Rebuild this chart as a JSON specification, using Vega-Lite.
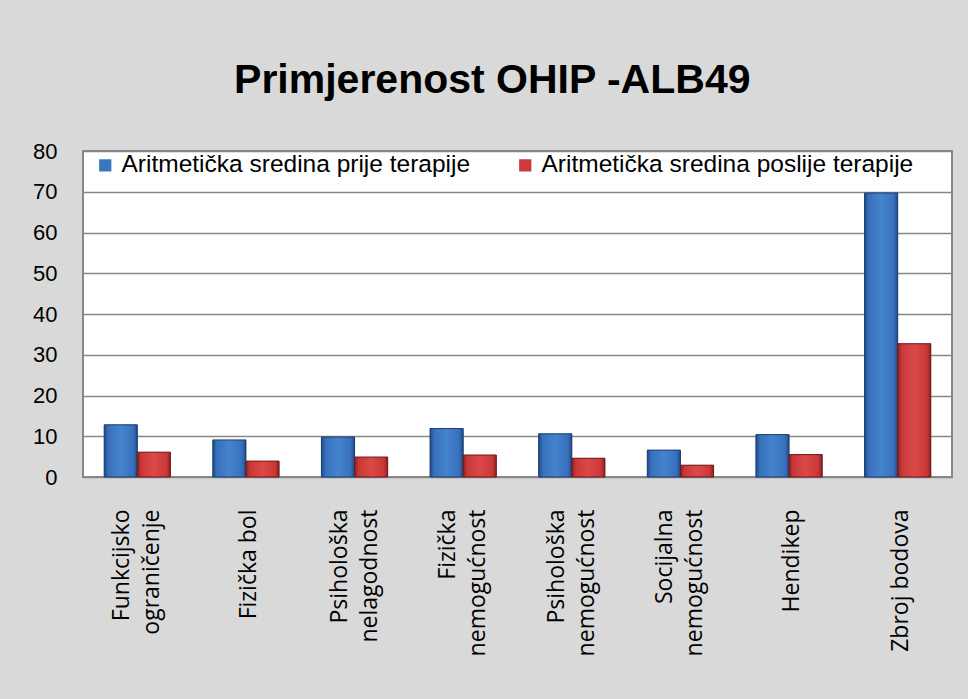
{
  "$schema": "https://vega.github.io/schema/vega-lite/v6.json",
  "autosize": {"type": "none"},
  "width": 869,
  "height": 326,
  "padding": {"left": 83, "top": 151, "right": 16, "bottom": 222},
  "background": "#d9d9d9",
  "title": {
    "text": "Primjerenost  OHIP -ALB49",
    "font": "Liberation Sans",
    "fontSize": 41,
    "fontWeight": "bold",
    "color": "#000000",
    "anchor": "middle",
    "frame": "bounds",
    "baseline": "bottom",
    "offset": -3
  },
  "config": {
    "view": {"fill": "#ffffff", "stroke": "#878787", "strokeWidth": 2},
    "axis": {"labelColor": "#000000", "ticks": false, "domain": false, "title": null}
  },
  "data": {
    "values": [
      {"kategorija": "Funkcijsko ograničenje", "serija": "Aritmetička sredina prije terapije", "vrijednost": 12.8},
      {"kategorija": "Funkcijsko ograničenje", "serija": "Aritmetička sredina poslije terapije", "vrijednost": 6.1},
      {"kategorija": "Fizička bol", "serija": "Aritmetička sredina prije terapije", "vrijednost": 9.1},
      {"kategorija": "Fizička bol", "serija": "Aritmetička sredina poslije terapije", "vrijednost": 3.9},
      {"kategorija": "Psihološka nelagodnost", "serija": "Aritmetička sredina prije terapije", "vrijednost": 9.8},
      {"kategorija": "Psihološka nelagodnost", "serija": "Aritmetička sredina poslije terapije", "vrijednost": 4.9},
      {"kategorija": "Fizička nemogućnost", "serija": "Aritmetička sredina prije terapije", "vrijednost": 11.9},
      {"kategorija": "Fizička nemogućnost", "serija": "Aritmetička sredina poslije terapije", "vrijednost": 5.4},
      {"kategorija": "Psihološka nemogućnost", "serija": "Aritmetička sredina prije terapije", "vrijednost": 10.6},
      {"kategorija": "Psihološka nemogućnost", "serija": "Aritmetička sredina poslije terapije", "vrijednost": 4.6},
      {"kategorija": "Socijalna nemogućnost", "serija": "Aritmetička sredina prije terapije", "vrijednost": 6.6},
      {"kategorija": "Socijalna nemogućnost", "serija": "Aritmetička sredina poslije terapije", "vrijednost": 2.9},
      {"kategorija": "Hendikep", "serija": "Aritmetička sredina prije terapije", "vrijednost": 10.4},
      {"kategorija": "Hendikep", "serija": "Aritmetička sredina poslije terapije", "vrijednost": 5.5},
      {"kategorija": "Zbroj bodova", "serija": "Aritmetička sredina prije terapije", "vrijednost": 69.7},
      {"kategorija": "Zbroj bodova", "serija": "Aritmetička sredina poslije terapije", "vrijednost": 32.7}
    ]
  },
  "encoding": {
    "x": {
      "field": "kategorija",
      "type": "nominal",
      "sort": null,
      "scale": {"paddingInner": 0.39, "paddingOuter": 0.195},
      "axis": {
        "labelAngle": 270,
        "labelFont": "Open Sans",
        "labelFontSize": 23,
        "labelPadding": 32,
        "labelLineHeight": 30,
        "labelLimit": 300,
        "labelOffset": {"condition": {"test": "!(datum.value == 'Fizička bol' || datum.value == 'Zbroj bodova' || datum.value == 'Hendikep')", "value": -15}, "value": 3},
        "labelExpr": "(datum.value == 'Fizička bol' || datum.value == 'Zbroj bodova' || indexof(datum.value, ' ') < 0) ? datum.value : split(datum.value, ' ')"
      }
    },
    "xOffset": {
      "field": "serija",
      "type": "nominal",
      "sort": ["Aritmetička sredina prije terapije", "Aritmetička sredina poslije terapije"],
      "scale": {"paddingInner": 0, "paddingOuter": 0}
    },
    "y": {
      "field": "vrijednost",
      "type": "quantitative",
      "scale": {"domain": [0, 80], "nice": false},
      "axis": {
        "values": [0, 10, 20, 30, 40, 50, 60, 70, 80],
        "labelFont": "Liberation Sans",
        "labelFontSize": 22,
        "labelPadding": 26,
        "gridColor": "#878787",
        "gridWidth": 1.6
      }
    }
  },
  "layer": [
    {
      "mark": {"type": "bar"},
      "encoding": {
        "color": {
          "field": "serija",
          "type": "nominal",
          "sort": ["Aritmetička sredina prije terapije", "Aritmetička sredina poslije terapije"],
          "scale": {"range": ["#3b74bf", "#cd3a3a"]},
          "legend": {
            "title": null,
            "orient": "none",
            "direction": "horizontal",
            "legendX": 10,
            "legendY": 2,
            "padding": 0,
            "symbolType": "square",
            "symbolSize": 150,
            "symbolStrokeWidth": 0,
            "labelFont": "Liberation Sans",
            "labelFontSize": 24.5,
            "labelColor": "#000000",
            "labelLimit": 500,
            "labelOffset": 4,
            "columnPadding": 42
          }
        }
      }
    },
    {
      "transform": [{"filter": "datum.serija == 'Aritmetička sredina prije terapije'"}],
      "mark": {
        "type": "bar",
        "stroke": "#1c3f70",
        "strokeWidth": 1,
        "fill": {
          "gradient": "linear", "x1": 0, "y1": 0, "x2": 1, "y2": 0,
          "stops": [
            {"offset": 0, "color": "#1f4a86"},
            {"offset": 0.12, "color": "#3870ba"},
            {"offset": 0.5, "color": "#4583cf"},
            {"offset": 0.88, "color": "#3870ba"},
            {"offset": 1, "color": "#1f4a86"}
          ]
        }
      }
    },
    {
      "transform": [{"filter": "datum.serija == 'Aritmetička sredina poslije terapije'"}],
      "mark": {
        "type": "bar",
        "stroke": "#6e1a1a",
        "strokeWidth": 1,
        "fill": {
          "gradient": "linear", "x1": 0, "y1": 0, "x2": 1, "y2": 0,
          "stops": [
            {"offset": 0, "color": "#8a2222"},
            {"offset": 0.12, "color": "#c93838"},
            {"offset": 0.5, "color": "#dc4848"},
            {"offset": 0.88, "color": "#c93838"},
            {"offset": 1, "color": "#8a2222"}
          ]
        }
      }
    }
  ]
}
